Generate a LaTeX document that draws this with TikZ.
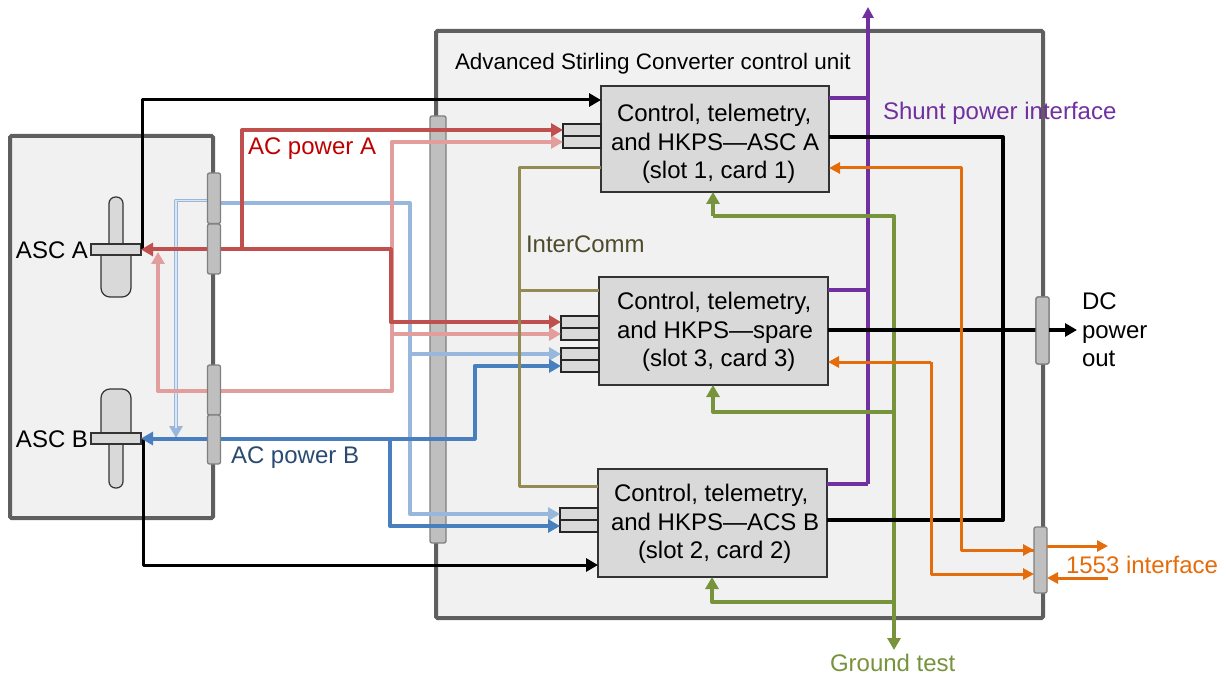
\documentclass[tikz,border=0pt]{standalone}
\usepackage{fontspec}
\setmainfont{Liberation Sans}
\usetikzlibrary{arrows.meta}
\definecolor{cframe}{HTML}{5F5F5F}
\definecolor{cpanel}{HTML}{F1F1F1}
\definecolor{ccard}{HTML}{D9D9D9}
\definecolor{cbar}{HTML}{BFBFBF}
\definecolor{cbarl}{HTML}{7F7F7F}
\definecolor{cred}{HTML}{C0504D}
\definecolor{cpink}{HTML}{E29E9C}
\definecolor{cblue}{HTML}{4A7FBF}
\definecolor{csky}{HTML}{98B7DC}
\definecolor{cskyc}{HTML}{DCE6F2}
\definecolor{colive}{HTML}{948A54}
\definecolor{cpurple}{HTML}{7030A0}
\definecolor{cgreen}{HTML}{77933C}
\definecolor{corange}{HTML}{E46C0A}
\definecolor{tred}{HTML}{C00000}
\definecolor{tnavy}{HTML}{2A4A72}
\definecolor{tolive}{HTML}{4F4B2D}
\newcommand{\bx}[6]{\node[#6,minimum width={(#4-#2)*1pt},minimum height={(#5-#3)*1pt}] (#1) at ({(#2+#4)/2},{(#3+#5)/2}) {};}
\tikzset{
 base/.style={inner sep=0pt,outer sep=0pt,rectangle},
 panel/.style={base,draw=cframe,fill=cpanel,line width=4pt,rounded corners=1.5pt},
 card/.style={base,draw=black!80,fill=ccard,line width=1.3pt},
 port/.style={base,draw=black!85,fill=ccard,line width=1.2pt},
 bar/.style={base,draw=cbarl,fill=cbar,line width=1.3pt,rounded corners=2pt},
 flange/.style={base,draw=black!80,fill=ccard,line width=1.2pt},
 body/.style={draw=black!80,fill=ccard,line width=1.2pt},
 wire/.style={line join=round},
 redw/.style={wire,draw=cred,line width=4pt},
 pinkw/.style={wire,draw=cpink,line width=4pt},
 bluew/.style={wire,draw=cblue,line width=4pt},
 skyw/.style={wire,draw=csky,line width=4pt},
 blackw/.style={wire,draw=black,line width=3pt},
 powerw/.style={wire,draw=black,line width=4pt},
 olivew/.style={wire,draw=colive,line width=3pt},
 purplew/.style={wire,draw=cpurple,line width=4pt},
 greenw/.style={wire,draw=cgreen,line width=4pt},
 orangew/.style={wire,draw=corange,line width=3pt},
 tip/.style={-{Triangle[length=12pt,width=13pt]}},
 tipb/.style={{Triangle[length=12pt,width=13pt]}-{Triangle[length=12pt,width=13pt]}},
 tipo/.style={-{Triangle[length=11pt,width=11pt]}},
 lab/.style={inner sep=0pt,outer sep=0pt,font=\fontsize{24}{28.5}\selectfont,align=left,anchor=west},
}
\begin{document}
\begin{tikzpicture}[x=1pt,y=-1pt]
\useasboundingbox (0,0) rectangle (1226,676);
% frames
\bx{ascbox}{10}{136}{213}{518}{panel}
\bx{unit}{436}{31}{1043}{618}{panel}
% ASC A
\draw[body,rounded corners=6.5pt] (109,245) -- (109,197) -- (123,197) -- (123,245);
\draw[body,rounded corners=9pt] (101,254) -- (101,297) -- (131,297) -- (131,254);
\bx{ascA}{91}{244}{141}{255}{flange}
% ASC B
\draw[body,rounded corners=9pt] (101,434) -- (101,389) -- (131,389) -- (131,434);
\draw[body,rounded corners=6.5pt] (109,443) -- (109,488) -- (123,488) -- (123,443);
\bx{ascB}{91}{433}{141}{444}{flange}
% big bar beneath wires
\bx{bigbar}{430}{116}{446}{543}{bar}
% cards
\bx{cardA}{601}{86}{829}{192}{card}
\bx{cardS}{599}{277}{828}{385}{card}
\bx{cardB}{598}{469}{827}{577}{card}
% ports
\bx{portAa}{563}{124}{601}{136}{port}
\bx{portAb}{563}{136}{601}{148}{port}
\bx{portSa}{561}{316}{599}{328}{port}
\bx{portSb}{561}{328}{599}{340}{port}
\bx{portSc}{561}{348}{599}{360}{port}
\bx{portSd}{561}{360}{599}{372}{port}
\bx{portBa}{560}{508}{598}{520}{port}
\bx{portBb}{560}{520}{598}{532}{port}
% way points
\coordinate (ascAup) at (142,100);
\coordinate (ascBdn) at (143,565);
\coordinate (redJ) at (390.5,249.5);
\coordinate (redB) at (242,249.5);
\coordinate (pinkC) at (158,391);
\coordinate (pinkR) at (391.5,391);
\coordinate (pinkJ) at (391.5,334);
\coordinate (pinkTip) at (158,252);
\coordinate (skyR) at (410,203);
\coordinate (skyJ) at (410,354);
\coordinate (skyL) at (176,200.5);
\coordinate (skyTip) at (176,438);
\coordinate (blueU) at (474.5,438.5);
\coordinate (blueJ) at (390,438.5);
% sense wires
\draw[blackw,tip] (ascAup |- ascA.east) -- (ascAup) -- (ascAup -| cardA.west);
\draw[blackw,tip] (ascB.east -| ascBdn) -- (ascBdn) -- (ascBdn -| cardB.west);
% light blue
\draw[skyw,tip] (220,203) -- (skyR) |- (portBa.west);
\draw[skyw,tip] (skyJ) -- (portSc.west);
\draw[wire,draw=csky,line width=3.6pt,tip] (208,200.5) -- (skyL) -- (skyTip);
\draw[wire,draw=cskyc,line width=1.1pt] (208,200.5) -- (skyL) -- (176,428);
% pink
\draw[pinkw,tip] (207,391) -- (pinkC) -- (pinkTip);
\draw[pinkw,tip] (207,391) -- (pinkR) |- (portAb.west);
\draw[pinkw,tip] (pinkJ) -- (portSb.west);
% red
\draw[redw,tipb] (ascA.east) -- (redJ) |- (portSa.west);
\draw[redw,tip] (redB) |- (portAa.west);
% blue
\draw[bluew,tipb] (ascB.east) -- (blueU) |- (portSd.west);
\draw[bluew,tip] (blueJ) |- (portBb.west);
% left bars
\bx{barLa}{207.5}{173}{220.5}{223.5}{bar}
\bx{barLb}{207.5}{224}{220.5}{274}{bar}
\bx{barLc}{207.5}{365}{220.5}{415}{bar}
\bx{barLd}{207.5}{415}{220.5}{464}{bar}
% intercomm
\draw[olivew] (cardA.west |- 0,168) -- (519,168) -- (519,486) -- (cardB.west |- 0,486);
\draw[olivew] (519,290.5) -- (cardS.west |- 0,290.5);
% shunt
\coordinate (shuntTip) at (868,7);
\draw[purplew,tipo] (868,484) -- (shuntTip);
\draw[purplew] (cardA.east |- 0,98) -- (868,98);
\draw[purplew] (cardS.east |- 0,290.5) -- (868,290.5);
\draw[purplew] (cardB.east |- 0,484) -- (868,484);
% ground test
\coordinate (gndTip) at (894,650);
\draw[greenw,tip] (713,216) -- (894,216) -- (gndTip);
\draw[greenw,tip] (713,216) -- (cardA.south -| 713,0);
\draw[greenw,tip] (894,412) -- (713,412) -- (cardS.south -| 713,0);
\draw[greenw,tip] (894,602) -- (712,602) -- (cardB.south -| 712,0);
% DC power
\bx{dcbar}{1036}{297}{1049}{364}{bar}
\coordinate (dcTip) at (1077,330);
\draw[powerw] (cardA.east |- 0,137) -- (1003,137) -- (1003,520) -- (cardB.east |- 0,520);
\draw[powerw] (cardS.east |- 0,330) -- (1040,330);
\node[bar,minimum width=13pt,minimum height=67pt] at (dcbar) {};
\draw[powerw,tip] (dcbar.east |- dcTip) -- (dcTip);
% 1553
\bx{milbar}{1034}{527}{1047}{593}{bar}
\coordinate (milOut) at (1108,546);
\coordinate (milIn) at (1108,578);
\draw[orangew,tipo] (milbar.west |- 0,550) -- (961,550) -- (961,168) -- (cardA.east |- 0,168);
\draw[orangew,tipo] (931,362) -- (931,574) -- (milbar.west |- 0,574);
\draw[orangew,tipo] (931,362) -- (cardS.east |- 0,362);
\draw[orangew,tipo] (961,550) -- (milbar.west |- 0,550);
\draw[orangew,tipo] (milbar.east |- milOut) -- (milOut);
\draw[orangew,tipo] (milIn) -- (milbar.east |- milIn);
% labels
\node[lab,font=\fontsize{22.45}{28}\selectfont] (tUnit) at (455,63.5) {Advanced Stirling Converter control unit};
\node[lab,text=tred] (tPowA) at (248,149) {AC power A};
\node[lab,text=tnavy] (tPowB) at (231,458) {AC power B};
\node[lab,text=tolive] (tInter) at (526,244) {InterComm};
\node[lab,text=cpurple] (tShunt) at (883,113) {Shunt power interface};
\node[lab] (tDC) at (1082,330) {DC\\power\\out};
\node[lab,text=corange] (tMil) at (1066,565) {1553 interface};
\node[lab,text=cgreen] (tGnd) at (830,663) {Ground test};
\node[lab] (tAscA) at (16,250) {ASC A};
\node[lab] (tAscB) at (16,439) {ASC B};
\node[lab] (tCardA) at (611,144) {\hspace*{6pt}Control, telemetry,\\and HKPS—ASC A\\\hspace*{31pt}(slot 1, card 1)};
\node[lab] (tCardS) at (617,332) {Control, telemetry,\\and HKPS—spare\\\hspace*{25pt}(slot 3, card 3)};
\node[lab] (tCardB) at (611,524) {\hspace*{3pt}Control, telemetry,\\and HKPS—ACS B\\\hspace*{27pt}(slot 2, card 2)};
\end{tikzpicture}
\end{document}
